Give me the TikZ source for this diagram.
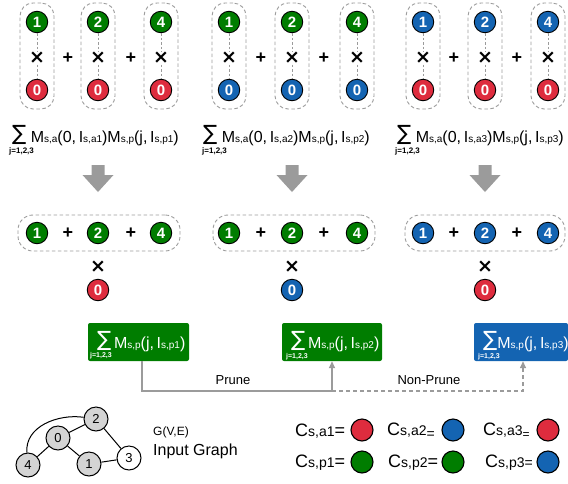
\documentclass[tikz,border=0pt]{standalone}
\usepackage{fontspec}
\setmainfont{Liberation Sans}
\newfontfamily\dejavu{DejaVu Sans}
\usetikzlibrary{arrows.meta}
\definecolor{cg}{RGB}{0,125,0}
\definecolor{cr}{RGB}{222,44,62}
\definecolor{cb}{RGB}{20,100,178}
\definecolor{lg}{RGB}{155,155,155}
\definecolor{ng}{RGB}{212,212,212}
\newcommand\fs[1]{\fontsize{#1}{#1}\selectfont}
\newcommand\sbs[1]{{\fs{10}#1}}
\newcommand\bigsum{\raisebox{2pt}{\dejavu\fs{21}∑}}
\begin{document}
\begin{tikzpicture}[x=1pt,y=-1pt,
  cn/.style={circle,draw=black,line width=0.9pt,minimum size=21.5pt,inner sep=0pt,text=white,font=\fs{15}\bfseries},
  op/.style={font=\fs{18}\bfseries,inner sep=0.5pt},
  tm/.style={font=\dejavu\fs{19}\bfseries,inner sep=0.5pt},
  dbox/.style={draw=lg,line width=0.9pt,dash pattern=on 3.5pt off 2.5pt,rounded corners=13pt,inner sep=0pt},
  frm/.style={anchor=base west,inner sep=0pt,font=\fs{16}},
  jsub/.style={anchor=west,inner sep=0pt,font=\fs{8}\bfseries},
  pbox/.style={rounded corners=2pt,minimum height=38pt,inner sep=0pt},
  conn/.style={draw=lg,line width=1.8pt},
  tip/.style={-{Triangle[width=6pt,length=7pt]}},
  gn/.style={circle,draw=black,line width=1pt,fill=ng,minimum size=24pt,inner sep=0pt,font=\fs{13}},
  lc/.style={circle,draw=black,line width=1.1pt,minimum size=22pt,inner sep=0pt},
  lt/.style={anchor=west,inner sep=0pt,font=\fs{18}}
]
\useasboundingbox (0,0) rectangle (568,483);

% ---------- top row and middle row ----------
\foreach \p/\xa/\xb/\xc/\pa/\pb/\ct/\cbt/\fx/\jx/\mx/\mw in
  {1/37/98/161/68/131/cg/cr/12/9/99/162,
   2/229/292/357/261/324/cg/cb/203/202/294/162,
   3/423/485/548/454/517/cb/cr/397/395/485/160}{
  \foreach \k/\x/\n in {a/\xa/1,b/\xb/2,c/\xc/4}{
    \node[dbox,minimum width=34pt,minimum height=106pt] (box\p\k) at (\x,56) {};
    \node[cn,fill=\ct] (top\p\k) at (\x,22) {\n};
    \node[cn,fill=\cbt] (bot\p\k) at (\x,90) {0};
    \draw[lg,line width=0.6pt,dash pattern=on 2.5pt off 2pt] (top\p\k) -- (bot\p\k);
    \node[tm,fill=white] (tx\p\k) at (\x,58) {×};
    % middle row circles
    \node[cn,fill=\ct] (mid\p\k) at (\x,233) {\n};
  }
  \node[op] (pl\p a) at (\pa,58) {+};
  \node[op] (pl\p b) at (\pb,58) {+};
  % formula
  \node[frm] (f\p) at (\fx,142) {\bigsum\ M\sbs{s,a}(0,\,I\sbs{s,a\p})M\sbs{s,p}(j,\,I\sbs{s,p\p})};
  \node[jsub] (j\p) at (\jx,151) {j=1,2,3};
  % block arrow
  \fill[lg] (\xb-6.5,165) -- (\xb+6.5,165) -- (\xb+6.5,175) -- (\xb+15.5,175)
            -- (\xb,192) -- (\xb-15.5,175) -- (\xb-6.5,175) -- cycle;
  % middle row
  \node[dbox,rounded corners=15pt,minimum width=\mw pt,minimum height=36pt] (mbox\p) at (\mx,233) {};
  \node[op] (mpl\p a) at (\pa,233) {+};
  \node[op] (mpl\p b) at (\pb,233) {+};
  \node[tm] (mx\p) at (\xb,267) {×};
  \node[cn,fill=\cbt] (mz\p) at (\xb,290) {0};
}

% ---------- bottom boxes ----------
\node[pbox,fill=cg,minimum width=101pt] (pb1) at (138.5,342) {};
\node[pbox,fill=cg,minimum width=100pt] (pb2) at (332,342) {};
\node[pbox,fill=cb,minimum width=94pt] (pb3) at (521,342) {};
\node[frm,text=white] (pt1) at (97,348) {\bigsum\,M\sbs{s,p}(j,\,I\sbs{s,p1})};
\node[frm,text=white] (pt2) at (291,348) {\bigsum\,M\sbs{s,p}(j,\,I\sbs{s,p2})};
\node[frm,text=white] (pt3) at (483,348) {\bigsum M\sbs{s,p}(j,\,I\sbs{s,p3})};
\node[jsub,text=white,font=\fs{7}\bfseries] (pj1) at (90,356) {j=1,2,3};
\node[jsub,text=white,font=\fs{7}\bfseries] (pj2) at (286,356.5) {j=1,2,3};
\node[jsub,text=white,font=\fs{7}\bfseries] (pj3) at (478,357) {j=1,2,3};

% ---------- connectors ----------
\coordinate (jn) at (332,391);
\coordinate (jd) at (523,391);
\draw[conn,tip] ([xshift=3.5pt]pb1.south) |- (jn) -- (pb2.south);
\draw[conn,line width=1.4pt,dash pattern=on 4pt off 3pt,tip] (jn) -- (jd) -- (jd |- pb3.south);
\node[font=\fs{13}] (prune) at (233,380) {Prune};
\node[font=\fs{13}] (nprune) at (429,380) {Non-Prune};

% ---------- input graph ----------
\node[gn] (g2) at (96,419) {2};
\node[gn] (g0) at (58,438) {0};
\node[gn] (g4) at (28,465) {4};
\node[gn] (g1) at (89,464) {1};
\node[gn,fill=white] (g3) at (129,458) {3};
\draw[line width=1pt] (g0) -- (g2);
\draw[line width=1pt] (g0) -- (g4);
\draw[line width=1pt] (g0) -- (g1);
\draw[line width=1pt] (g1) -- (g3);
\draw[line width=1pt] (g2) -- (g3);
\draw[line width=1pt] (g4) to[out=95,in=172] (g2);
\node[anchor=west,inner sep=0pt,font=\fs{12}] (gve) at (153,432) {G(V,E)};
\node[anchor=west,inner sep=0pt,font=\fs{16}] (ig) at (153,451) {Input Graph};

% ---------- legend ----------
\node[lt] (la1) at (295,431) {C{\fs{14}s,a1}=};
\node[lt] (la2) at (387,431) {C{\fs{14}s,a2}\raisebox{-3pt}{\fs{14}=}};
\node[lt] (la3) at (483,431) {C{\fs{14}s,a3}\raisebox{-3pt}{\fs{12}=}};
\node[lt] (lp1) at (295,463) {C{\fs{14}s,p1}=};
\node[lt] (lp2) at (388,463) {C{\fs{14}s,p2}=};
\node[lt] (lp3) at (485,463) {C{\fs{14}s,p3}{\fs{14}=}};
\node[lc,fill=cr] (ca1) at (362,430) {};
\node[lc,fill=cb] (ca2) at (453,430) {};
\node[lc,fill=cr] (ca3) at (548,430) {};
\node[lc,fill=cg] (cp1) at (362,462) {};
\node[lc,fill=cg] (cp2) at (453,462) {};
\node[lc,fill=cb] (cp3) at (548,462) {};
\end{tikzpicture}
\end{document}
